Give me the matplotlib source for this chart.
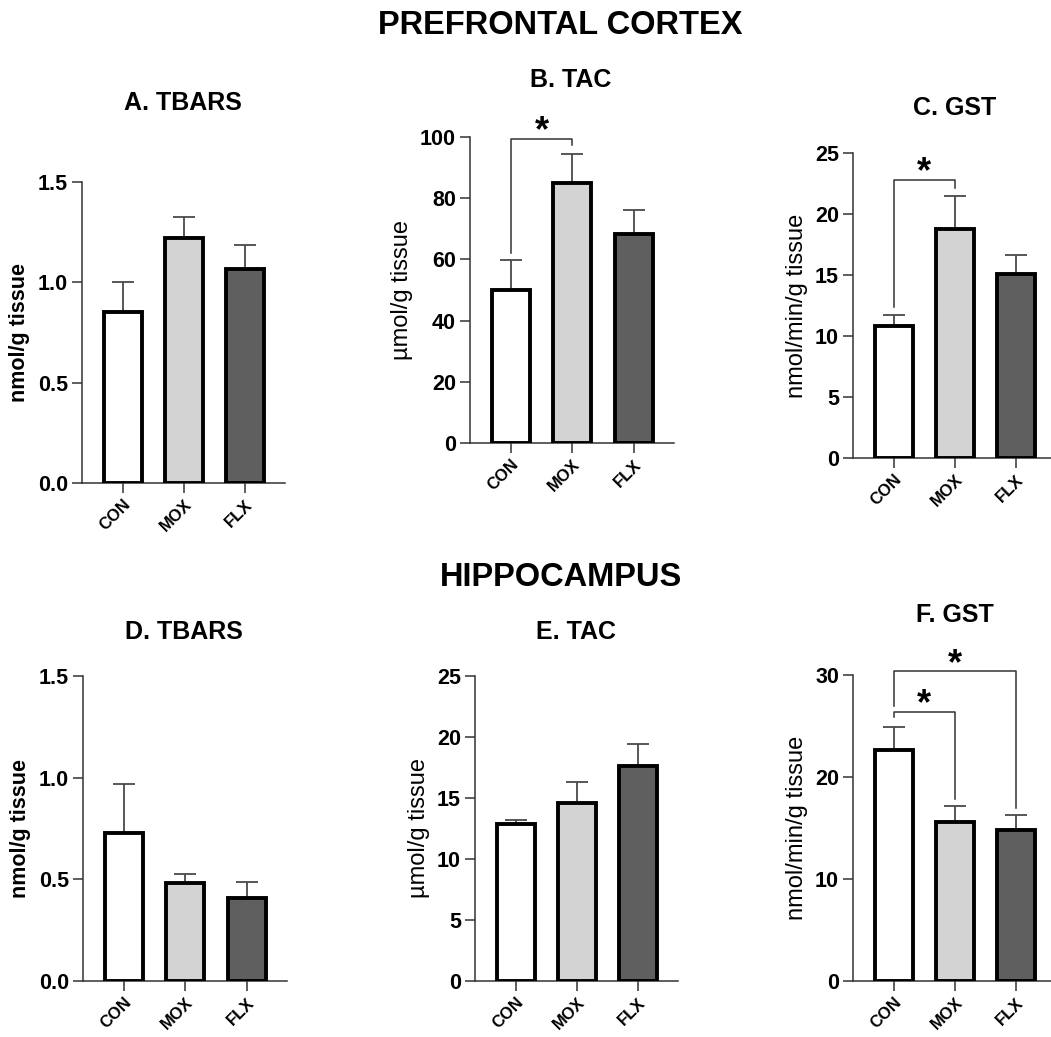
import numpy as np
import matplotlib
matplotlib.use('Agg')
import matplotlib.pyplot as plt

plt.rcParams['font.family'] = ['Liberation Sans', 'DejaVu Sans']

groups = ['CON', 'MOX', 'FLX']
colors = ['#ffffff', '#d3d3d3', '#5f5f5f']

# prefrontal cortex
tbars_pfc = [0.85, 1.22, 1.066]
tbars_pfc_err = [0.15, 0.105, 0.12]
tac_pfc = [50.1, 85.1, 68.4]
tac_pfc_err = [9.6, 9.5, 7.9]
gst_pfc = [10.8, 18.8, 15.1]
gst_pfc_err = [0.9, 2.7, 1.5]

# hippocampus
tbars_hip = [0.726, 0.48, 0.41]
tbars_hip_err = [0.243, 0.046, 0.078]
tac_hip = [12.9, 14.6, 17.65]
tac_hip_err = [0.3, 1.7, 1.75]
gst_hip = [22.6, 15.55, 14.8]
gst_hip_err = [2.3, 1.6, 1.5]

W, H = 1051, 1037
fig = plt.figure(figsize=(W / 100, H / 100), dpi=100)


def px_axes(left, top, right, bottom):
    return fig.add_axes([left / W, 1 - bottom / H, (right - left) / W, (bottom - top) / H])


def panel(box, title, title_xy, vals, errs, ymax, ystep, ylabel, bold_label, fmt):
    ax = px_axes(*box)
    x = np.arange(len(groups))
    ax.bar(x, vals, width=0.62, color=colors, edgecolor='black', linewidth=2.8, zorder=3)
    ax.errorbar(x, vals, yerr=[np.zeros(len(vals)), errs], fmt='none', ecolor='#4a4a4a',
                elinewidth=1.3, capsize=8, capthick=1.3, zorder=2)
    ax.set_xlim(-0.67, 2.66)
    ax.set_ylim(0, ymax)
    ticks = np.arange(0, ymax + ystep / 2, ystep)
    ax.set_yticks(ticks)
    ax.set_yticklabels([fmt.format(t) for t in ticks], fontsize=15.5, fontweight='bold')
    ax.set_xticks(x)
    ax.set_xticklabels(groups, rotation=45, ha='right', rotation_mode='anchor',
                       fontsize=12, fontweight='bold')
    for s in ['top', 'right']:
        ax.spines[s].set_visible(False)
    for s in ['left', 'bottom']:
        ax.spines[s].set_color('#333333')
        ax.spines[s].set_linewidth(1.1)
    ax.tick_params(axis='both', length=7, width=1.1, color='#333333', pad=3)
    if bold_label:
        ax.set_ylabel(ylabel, fontsize=15.5, fontweight='bold', labelpad=6)
    else:
        ax.set_ylabel(ylabel, fontsize=17, labelpad=5)
    fig.text(title_xy[0] / W, 1 - title_xy[1] / H, title, ha='center', va='center',
             fontsize=18, fontweight='bold')
    return ax


def bracket(ax, x1, x2, top, y1, y2):
    ax.plot([x1, x1, x2, x2], [y1, top, top, y2], color='#333333', lw=1.1, clip_on=False, zorder=4)
    ax.annotate('*', xy=((x1 + x2) / 2, top), xytext=(0, -2), textcoords='offset points',
                ha='center', va='baseline', fontsize=26, fontweight='bold', annotation_clip=False)


ax_a = panel((82, 182, 285, 483), 'A. TBARS', (183, 103), tbars_pfc, tbars_pfc_err,
             1.5, 0.5, 'nmol/g tissue', True, '{:.1f}')
ax_b = panel((470, 137, 674, 443), 'B. TAC', (571, 80), tac_pfc, tac_pfc_err,
             100, 20, 'µmol/g tissue', False, '{:.0f}')
bracket(ax_b, 0, 1, 99.5, 62, 97.4)
ax_c = panel((853, 153, 1056, 458), 'C. GST', (955, 108), gst_pfc, gst_pfc_err,
             25, 5, 'nmol/min/g tissue', False, '{:.0f}')
bracket(ax_c, 0, 1, 22.8, 12.4, 22.1)

ax_d = panel((83, 676, 287, 981), 'D. TBARS', (184, 632), tbars_hip, tbars_hip_err,
             1.5, 0.5, 'nmol/g tissue', True, '{:.1f}')
ax_e = panel((475, 676, 678, 981), 'E. TAC', (576, 632), tac_hip, tac_hip_err,
             25, 5, 'µmol/g tissue', False, '{:.0f}')
ax_f = panel((853, 675, 1056, 981), 'F. GST', (955, 615), gst_hip, gst_hip_err,
             30, 10, 'nmol/min/g tissue', False, '{:.0f}')
bracket(ax_f, 0, 1, 26.4, 25.9, 17.8)
bracket(ax_f, 0, 2, 30.4, 27.0, 17.0)

fig.text(560 / W, 1 - 26 / H, 'PREFRONTAL CORTEX', ha='center', va='center',
         fontsize=23.5, fontweight='bold')
fig.text(561 / W, 1 - 577 / H, 'HIPPOCAMPUS', ha='center', va='center',
         fontsize=23.5, fontweight='bold')

fig.savefig('out.png', dpi=100)
